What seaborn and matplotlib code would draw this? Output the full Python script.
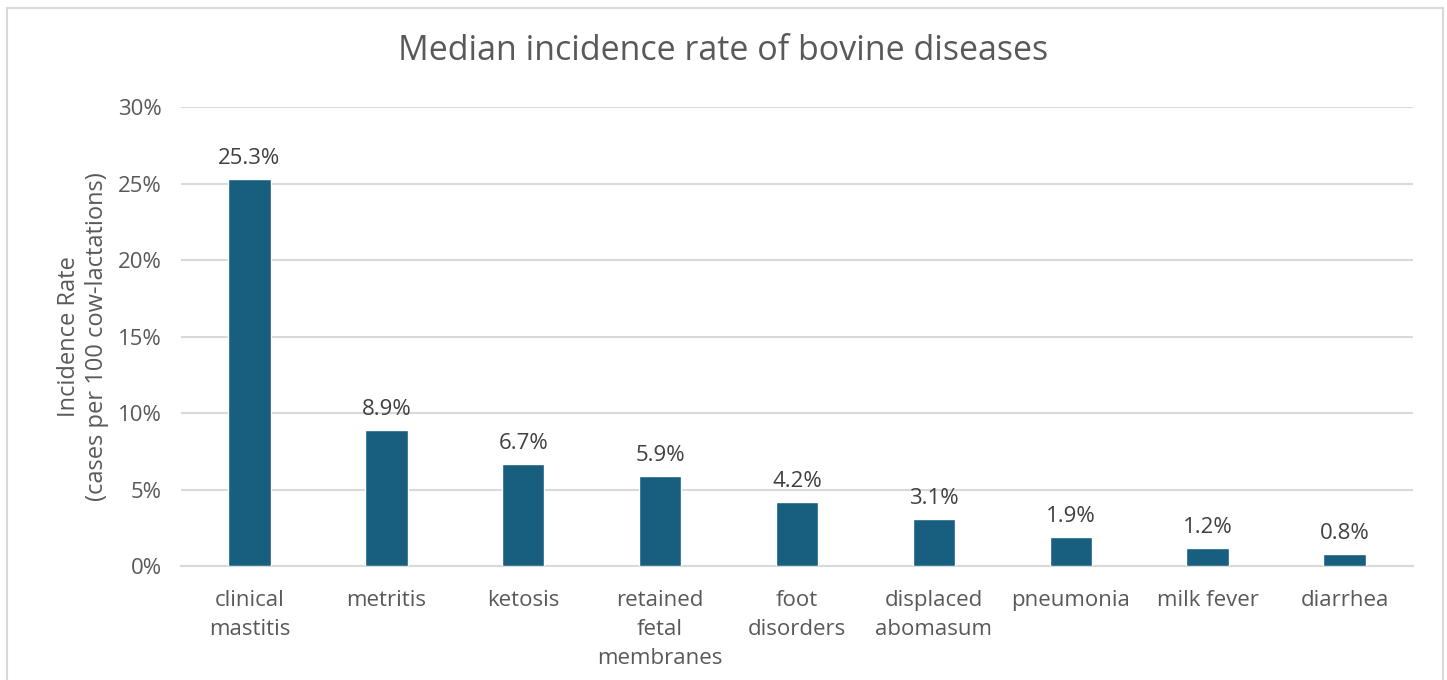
import pandas as pd
import matplotlib.pyplot as plt
import seaborn as sns
from matplotlib.patches import Rectangle
from matplotlib.ticker import PercentFormatter

diseases = ["clinical\nmastitis", "metritis", "ketosis", "retained\nfetal\nmembranes",
            "foot\ndisorders", "displaced\nabomasum", "pneumonia", "milk fever", "diarrhea"]
rates = [25.3, 8.9, 6.7, 5.9, 4.2, 3.1, 1.9, 1.2, 0.8]
y_ticks = [0, 5, 10, 15, 20, 25, 30]

BAR_COLOR = "#175E7F"
GRID_COLOR = "#D9D9D9"
TEXT_COLOR = "#595959"

sns.set_theme(style="white")
plt.rcParams["font.family"] = ["Open Sans", "DejaVu Sans"]

df = pd.DataFrame({"disease": diseases, "rate": rates})

fig = plt.figure(figsize=(14.47, 6.8), dpi=100)
ax = fig.add_axes([0.1251, 0.1676, 0.8514, 0.675])

sns.barplot(data=df, x="disease", y="rate", color=BAR_COLOR, width=0.31,
            saturation=1, ax=ax, zorder=3)

for i, v in enumerate(rates):
    ax.text(i, v + 0.65, f"{v:.1f}%", ha="center", va="bottom",
            fontsize=16, color="#404040")

ax.set_ylim(0, 30)
ax.set_yticks(y_ticks)
ax.yaxis.set_major_formatter(PercentFormatter(decimals=0))
ax.grid(axis="y", color=GRID_COLOR, linewidth=1.5, zorder=0)
ax.set_axisbelow(True)
for side in ["top", "right", "left"]:
    ax.spines[side].set_visible(False)
ax.spines["bottom"].set_color(GRID_COLOR)
ax.spines["bottom"].set_linewidth(1.5)

ax.tick_params(axis="both", length=0, labelsize=16, colors=TEXT_COLOR)
ax.tick_params(axis="x", pad=17)
ax.tick_params(axis="y", pad=14)
for lbl in ax.get_xticklabels():
    lbl.set_linespacing(1.5)
ax.set_xlabel("")
ax.set_ylabel("Incidence Rate\n(cases per 100 cow-lactations)",
              fontsize=17, color=TEXT_COLOR, labelpad=6, linespacing=1.25)

fig.text(0.5, 0.925, "Median incidence rate of bovine diseases",
         ha="center", va="center", fontsize=24.5, color=TEXT_COLOR)

# light frame around the whole chart, open at the bottom edge
fig.patches.append(Rectangle((7 / 1447, -0.02), 1436 / 1447, 1.02 - 8 / 680,
                             transform=fig.transFigure, fill=False,
                             edgecolor=GRID_COLOR, linewidth=1.5))

plt.savefig("out.png", dpi=100)
plt.close()
